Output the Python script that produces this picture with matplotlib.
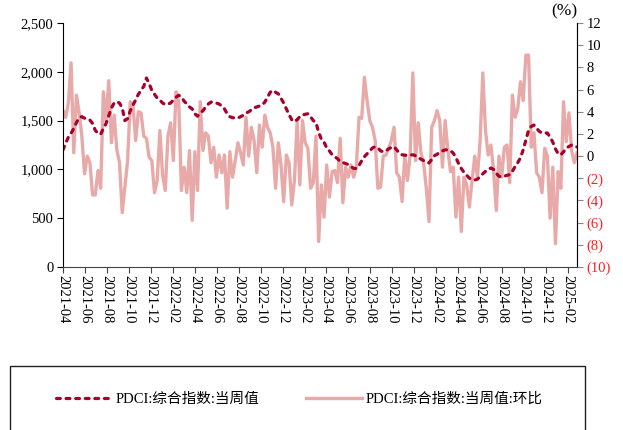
import pandas as pd
import matplotlib
matplotlib.use("Agg")
import matplotlib.pyplot as plt
import matplotlib.dates as mdates
from matplotlib.ticker import FuncFormatter, MultipleLocator
from matplotlib.patches import Rectangle

plt.rcParams['font.family'] = ['Liberation Serif', 'Noto Sans CJK SC', 'DejaVu Sans']

# weekly readings, 2021-04 .. 2025-02
start_date = "2021-04-01"
end_date = "2025-02-25"

pdci_index = [
  1200, 1270, 1330, 1370, 1420, 1480, 1530, 1540, 1525, 1515,
  1506, 1470, 1400, 1370, 1360, 1420, 1470, 1550, 1630, 1680,
  1694, 1680, 1630, 1500, 1520, 1600, 1660, 1711, 1770, 1810,
  1850, 1936, 1880, 1810, 1770, 1731, 1711, 1680, 1665, 1670,
  1680, 1710, 1740, 1760, 1740, 1700, 1670, 1640, 1620, 1570,
  1545, 1580, 1600, 1640, 1670, 1690, 1690, 1680, 1670, 1650,
  1620, 1570, 1540, 1530, 1527, 1527, 1540, 1555, 1578, 1590,
  1610, 1630, 1640, 1650, 1660, 1690, 1740, 1790, 1810, 1790,
  1775, 1730, 1680, 1620, 1560, 1510, 1489, 1510, 1540, 1557,
  1565, 1570, 1540, 1500, 1480, 1380, 1310, 1280, 1220, 1190,
  1150, 1130, 1110, 1080, 1070, 1060, 1050, 1030, 1010, 1010,
  1040, 1090, 1130, 1160, 1190, 1220, 1233, 1220, 1190, 1181,
  1190, 1210, 1225, 1233, 1200, 1165, 1150, 1145, 1145, 1147,
  1150, 1140, 1120, 1105, 1090, 1075, 1066, 1100, 1140, 1155,
  1175, 1190, 1200, 1200, 1190, 1168, 1120, 1060, 1010, 970,
  940, 910, 895, 891, 900, 925, 955, 980, 1000, 1014,
  1000, 960, 930, 922, 930, 940, 945, 980, 1030, 1070,
  1120, 1200, 1300, 1400, 1440, 1455, 1420, 1390, 1373, 1373,
  1373, 1330, 1280, 1210, 1160, 1150, 1180, 1219, 1235, 1250,
  1240, 1229,
]

pdci_wow = [
  4.1, 3.5, 4.8, 8.4, 0.3, 5.5, 3.9, 1.8, -1.6, 0.0,
  -0.6, -3.5, -3.5, -1.3, -2.9, 5.8, 3.2, 6.8, 1.2, 3.7,
  0.6, -0.6, -5.1, -2.8, -0.4, 4.9, 4.6, 1.4, 4.0, 3.9,
  1.8, 1.6, -0.1, -0.4, -3.3, -2.2, 2.3, -1.7, -3.1, 1.8,
  3.0, -0.4, 5.8, 4.9, -3.1, -1.0, -3.3, 0.5, -5.8, 0.4,
  -3.1, 4.9, 0.5, 2.1, 1.8, -0.6, 0.8, -1.9, 0.1, -1.5,
  0.1, -4.7, 0.4, -1.9, -0.4, 1.2, 0.3, -0.8, 3.5, 0.0,
  2.6, 1.4, -1.5, 2.8, 0.8, 3.7, 2.6, 2.1, 0.8, -2.9,
  1.2, -0.8, -4.1, 0.1, -0.6, -4.4, -2.2, 3.2, -2.6, 3.2,
  1.2, 0.7, -2.9, -2.4, 1.8, -7.7, -2.6, -5.5, -0.8, -3.7,
  -1.4, -1.3, -2.4, 1.6, -4.2, -1.0, -1.9, -0.8, -1.9, -1.0,
  3.5, 3.4, 7.1, 5.0, 3.2, 2.6, 1.4, -2.9, -2.8, 0.0,
  0.1, 0.7, 1.4, 2.6, -1.5, -1.9, -4.1, 0.1, -2.2, 0.1,
  7.5, -0.4, 3.0, 0.3, -0.6, -2.9, -5.9, 2.6, 3.2, 4.1,
  3.2, -1.0, 3.2, 0.6, -1.4, -1.0, -5.5, -1.9, -6.8, -1.9,
  -2.6, -4.6, -2.2, 0.0, -1.9, 1.4, 7.5, 2.3, 0.1, 1.0,
  -1.3, -4.9, 0.0, -1.9, 0.8, 1.0, -2.4, 5.5, 3.5, 4.3,
  6.7, 5.0, 9.1, 9.1, 0.8, 2.1, -1.5, -1.9, -3.3, 0.7,
  0.0, -5.6, -1.0, -7.9, -1.4, -2.9, 4.9, 1.3, 3.9, 0.5,
  -0.6, 0.3,
]

label_index = "PDCI:综合指数:当周值"
label_wow = "PDCI:综合指数:当周值:环比"

dates = pd.date_range(start_date, end_date, periods=len(pdci_index))

dark_red = "#A8002A"
pink = "#E8AAA8"
neg_red = "#FF2020"
fs = 10.5

fig = plt.figure(figsize=(6.23, 4.30), dpi=100)
ax = fig.add_axes([63/623, 1 - 267/430, (577 - 63)/623, (267 - 23)/430])
ax2 = ax.twinx()

ax2.plot(dates, pdci_wow, color=pink, lw=2.4, solid_joinstyle='round')
ax.plot(dates, pdci_index, color=dark_red, lw=2.3, ls=(0, (1.2, 1.8)),
        dash_capstyle='round')

# dashed line above the pink one
ax.set_zorder(ax2.get_zorder() + 1)
ax.patch.set_visible(False)

ax.set_xlim(dates[0], dates[-1])
ax.set_ylim(0, 2500)
ax2.set_ylim(-10, 12)
ax.yaxis.set_major_locator(MultipleLocator(500))
ax2.yaxis.set_major_locator(MultipleLocator(2))
ax.yaxis.set_major_formatter(FuncFormatter(lambda v, p: f"{v:,.0f}"))
ax2.yaxis.set_major_formatter(
  FuncFormatter(lambda v, p: f"({abs(v):.0f})" if v < 0 else f"{v:.0f}"))

ax.xaxis.set_major_locator(mdates.MonthLocator(bymonth=[2, 4, 6, 8, 10, 12]))
ax.xaxis.set_major_formatter(mdates.DateFormatter("%Y-%m"))

for a in (ax, ax2):
  a.spines['top'].set_visible(False)
ax.spines['left'].set_color("#000000")
ax.spines['bottom'].set_color("#444444")
ax2.spines['left'].set_visible(False)
ax2.spines['bottom'].set_visible(False)
ax2.spines['right'].set_color("#888888")

ax.tick_params(axis='y', length=4, width=0.8, labelsize=fs, pad=3)
ax.tick_params(axis='x', length=4, width=0.8, color="#444444", labelsize=fs,
               labelrotation=270, pad=2)
ax2.tick_params(axis='y', length=4, width=0.8, color="#888888", labelsize=fs, pad=3)
for lab in ax.get_xticklabels():
  lab.set_va('top')
  lab.set_ha('center')

fig.canvas.draw()
for v, lab in zip(ax2.get_yticks(), ax2.get_yticklabels()):
  if v < 0:
    lab.set_color(neg_red)

ax2.text(1.0, 1.015, "(%)", transform=ax2.transAxes, ha='right', va='bottom',
         fontsize=12.5)

# legend box below the chart
fig.add_artist(Rectangle((10/623, -0.05), (585 - 10)/623, 1 - 366/430 + 0.05,
                         transform=fig.transFigure, fill=False,
                         edgecolor="#222222", lw=1.0))
fig.legend(handles=ax.get_lines() + ax2.get_lines(),
           labels=[label_index, label_wow],
           loc='center left', bbox_to_anchor=(56/623, 1 - 399/430),
           ncol=2, frameon=False, fontsize=fs, handlelength=3.8,
           handletextpad=0.3, columnspacing=3.2, borderpad=0, borderaxespad=0)

fig.savefig("out.png", dpi=100)
